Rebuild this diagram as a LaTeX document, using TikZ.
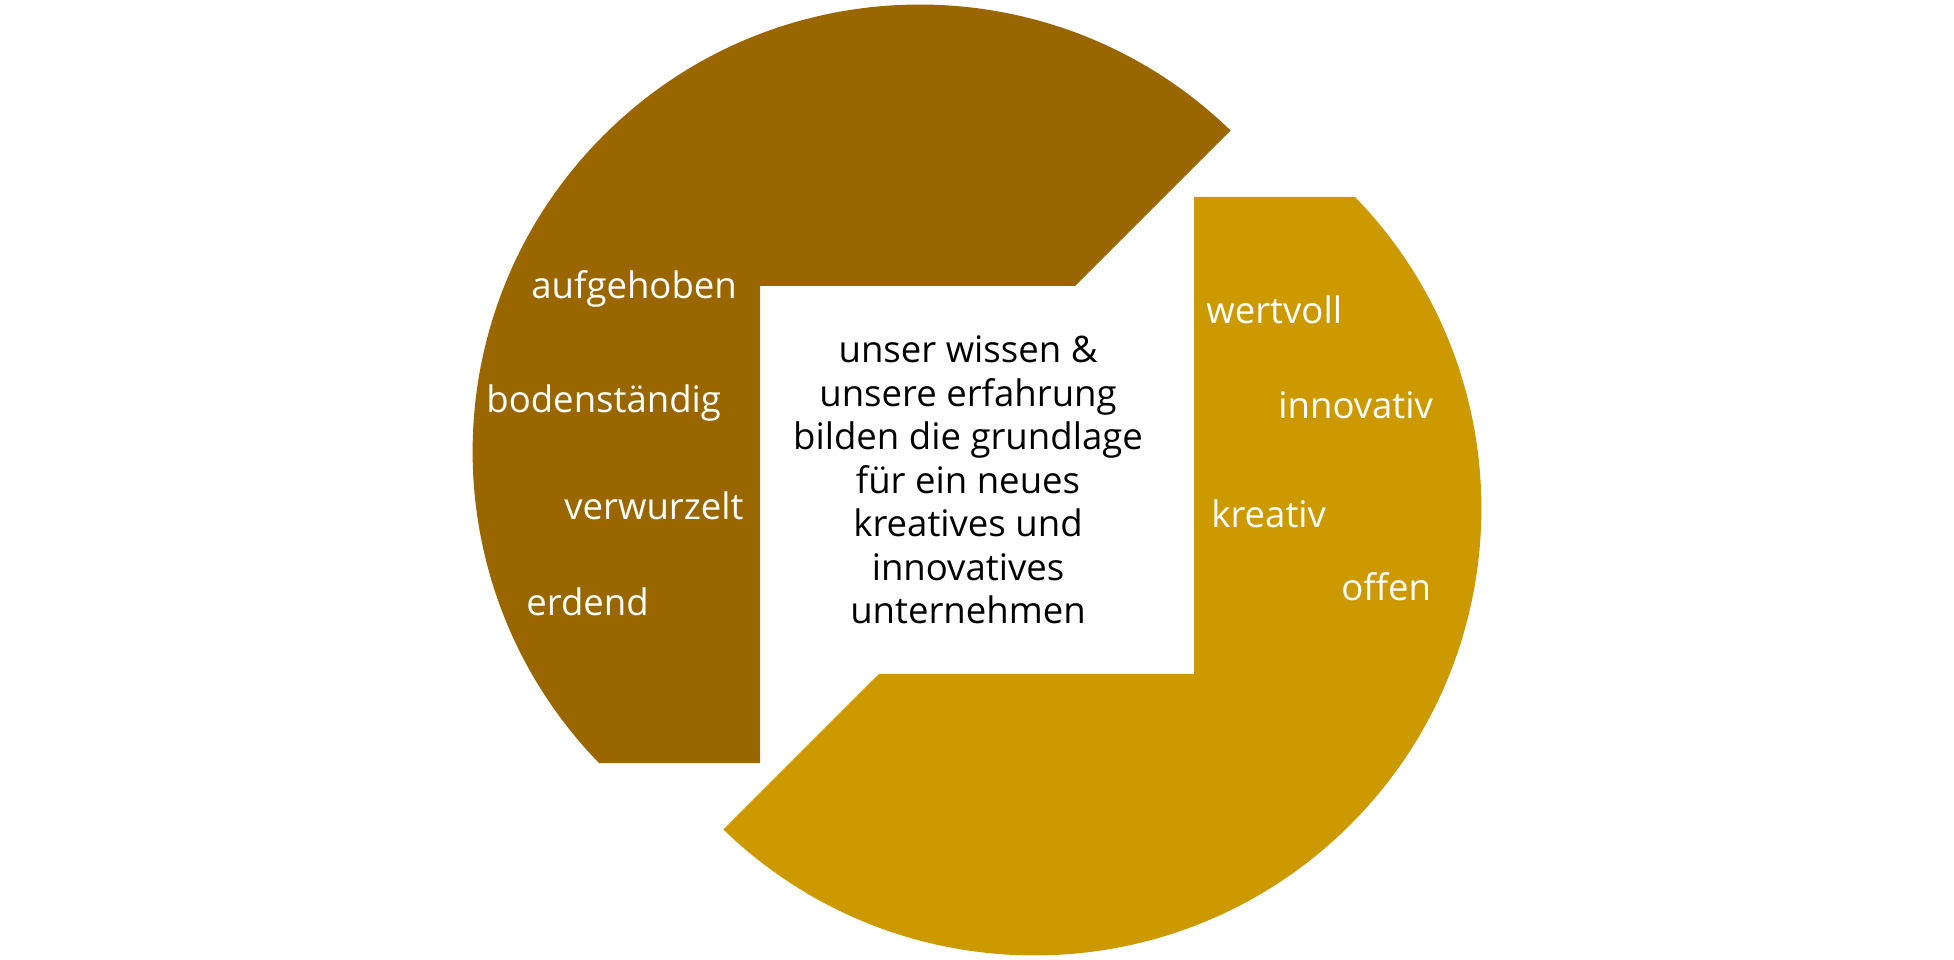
\documentclass[tikz,border=0pt]{standalone}
\usepackage{fontspec}
\setmainfont{Open Sans}
\usepackage{xcolor}
\usepackage{tikz}
\usetikzlibrary{positioning}
\definecolor{rootbrown}{HTML}{996600}
\definecolor{newgold}{HTML}{CC9900}
\tikzset{
  segment/.style={draw=none},
  word/.style={anchor=base west, text=white, inner sep=0pt,
    font=\fontsize{20.8pt}{24.75pt}\selectfont},
  core/.style={align=center, text=black, inner sep=0pt,
    font=\fontsize{20.8pt}{24.75pt}\selectfont},
}

\begin{document}
\begin{tikzpicture}

  \useasboundingbox (0,0) rectangle (39.08,19.2);

  % --- Linker Teil (Wurzeln) ---
  \fill[segment, rootbrown] (24.613,16.589)
    arc[start angle=45.9, end angle=224.2, radius=8.94cm]
    -- (15.2,3.937) -- (15.2,13.48) -- (21.5,13.48) -- cycle;

  % --- Rechter Teil (Neues) ---
  \fill[segment, newgold] (14.467,2.611)
    arc[start angle=225.9, end angle=404.2, radius=8.94cm]
    -- (23.88,15.263) -- (23.88,5.72) -- (17.58,5.72) -- cycle;

  % --- Mitte ---
  \node[core] (kern) at (19.36,9.6)
    {unser wissen \&\\unsere erfahrung\\bilden die grundlage\\für ein neues\\kreatives und\\innovatives\\unternehmen};

  % --- Begriffe links ---
  \node[word] (aufgehoben)   at (10.62,13.23)  {aufgehoben};
  \node[word] (bodenst)      at (9.72,10.95)   {bodenständig};
  \node[word] (verwurzelt)   at (11.28,8.80)   {verwurzelt};
  \node[word] (erdend)       at (10.52,6.89)   {erdend};

  % --- Begriffe rechts ---
  \node[word] (wertvoll)     at (24.12,12.73)  {wertvoll};
  \node[word] (innovativ)    at (25.56,10.82)  {innovativ};
  \node[word] (kreativ)      at (24.22,8.65)   {kreativ};
  \node[word] (offen)        at (26.82,7.19)   {offen};

\end{tikzpicture}
\end{document}
